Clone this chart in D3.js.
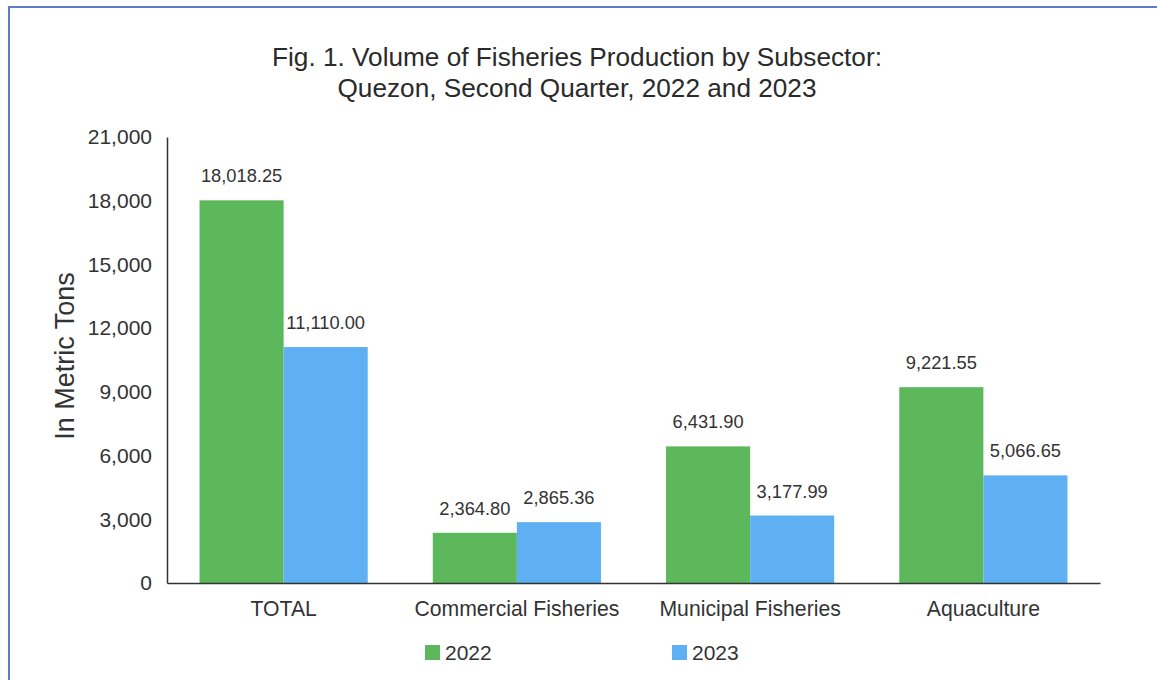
<!DOCTYPE html>
<html>
<head>
<meta charset="utf-8">
<script src="https://cdn.jsdelivr.net/npm/d3@7"></script>
<style>
  html, body { margin: 0; padding: 0; background: #ffffff; }
  svg { display: block; font-family: "Liberation Sans", Arial, sans-serif; }
</style>
</head>
<body>
<svg id="chart" width="1157" height="680"></svg>
<script>
const categories = ["TOTAL", "Commercial Fisheries", "Municipal Fisheries", "Aquaculture"];
const seriesNames = ["2022", "2023"];
const values2022 = [18018.25, 2364.80, 6431.90, 9221.55];
const values2023 = [11110.00, 2865.36, 3177.99, 5066.65];
const yTicks = [0, 3000, 6000, 9000, 12000, 15000, 18000, 21000];
const titleLines = ["Fig. 1. Volume of Fisheries Production by Subsector:", "Quezon, Second Quarter, 2022 and 2023"];
const yLabel = "In Metric Tons";
const colors = ["#5cb85b", "#5eb0f3"];

const svg = d3.select("#chart");
const W = 1157, H = 680;
const margin = { left: 167, right: 57, top: 137, bottom: 97 };
const FONT = "Liberation Sans, Arial, sans-serif";

// frame border
svg.append("rect").attr("x", 9).attr("y", 7).attr("width", W + 20).attr("height", H + 20)
  .attr("fill", "none").attr("stroke", "#5b7fc4").attr("stroke-width", 2);

const x0 = d3.scaleBand().domain(categories)
  .range([margin.left, W - margin.right])
  .paddingInner(0.279).paddingOuter(0.1395);
const x1 = d3.scaleBand().domain(seriesNames).range([0, x0.bandwidth()]).padding(0);
const y = d3.scaleLinear().domain([0, 21000]).range([H - margin.bottom, margin.top]);

// title
svg.append("g").selectAll("text").data(titleLines).join("text")
  .attr("x", 577).attr("y", (d, i) => 66 + i * 31)
  .attr("text-anchor", "middle").attr("font-size", 26.2).attr("fill", "#2a2a2a")
  .text(d => d);

// bars
const data = categories.map((c, i) => ({ cat: c, vals: [values2022[i], values2023[i]] }));
const groups = svg.append("g").selectAll("g").data(data).join("g")
  .attr("transform", d => `translate(${x0(d.cat)},0)`);
groups.selectAll("rect").data(d => d.vals.map((v, j) => ({ s: seriesNames[j], v, j })))
  .join("rect")
  .attr("x", d => x1(d.s)).attr("width", x1.bandwidth())
  .attr("y", d => y(d.v)).attr("height", d => y(0) - y(d.v))
  .attr("fill", d => colors[d.j]);

// value labels
groups.selectAll("text").data(d => d.vals.map((v, j) => ({ s: seriesNames[j], v, j })))
  .join("text")
  .attr("x", d => x1(d.s) + x1.bandwidth() / 2)
  .attr("y", d => y(d.v) - 18)
  .attr("text-anchor", "middle").attr("font-size", 18.3).attr("fill", "#333")
  .text(d => d3.format(",.2f")(d.v));

// y axis
const yAxis = svg.append("g").attr("transform", `translate(${margin.left},0)`)
  .call(d3.axisLeft(y).tickValues(yTicks).tickFormat(d3.format(",")).tickSize(0).tickPadding(15));
yAxis.select(".domain").attr("stroke", "#333").attr("stroke-width", 1.5);
yAxis.selectAll("text").attr("font-size", 21).attr("fill", "#333").attr("font-family", FONT);

// x axis
const xAxis = svg.append("g").attr("transform", `translate(0,${y(0)})`)
  .call(d3.axisBottom(x0).tickSize(0).tickPadding(18));
xAxis.select(".domain").attr("stroke", "#333").attr("stroke-width", 1.5);
xAxis.selectAll("text").attr("font-size", 21.2).attr("fill", "#333").attr("font-family", FONT);

// y label
svg.append("text").attr("transform", `translate(74,${(y(0) + y(21000)) / 2 - 4}) rotate(-90)`)
  .attr("text-anchor", "middle").attr("font-size", 27).attr("fill", "#333")
  .text(yLabel);

// legend
const legendX = [425, 672];
const legend = svg.append("g").selectAll("g").data(seriesNames).join("g")
  .attr("transform", (d, i) => `translate(${legendX[i]},645)`);
legend.append("rect").attr("width", 15).attr("height", 15).attr("fill", (d, i) => colors[i]);
legend.append("text").attr("x", 20).attr("y", 14.5).attr("font-size", 21).attr("fill", "#333").text(d => d);
</script>
</body>
</html>
